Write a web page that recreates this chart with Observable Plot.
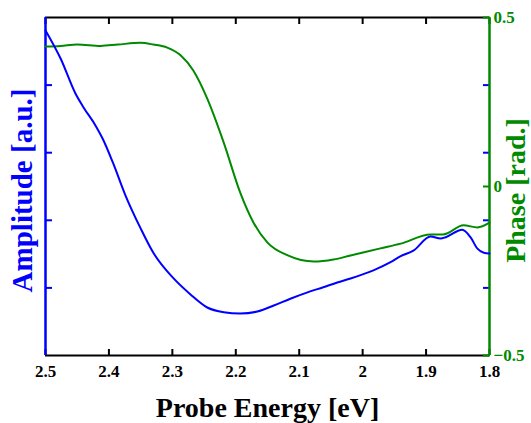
<!DOCTYPE html>
<html>
<head>
<meta charset="utf-8">
<script src="https://cdn.jsdelivr.net/npm/d3@7"></script>
<script src="https://cdn.jsdelivr.net/npm/@observablehq/plot@0.6"></script>
<style>
  html, body { margin: 0; padding: 0; background: #fff; }
</style>
</head>
<body>
<div id="chart"></div>
<script>
// Probe energy (eV) for the amplitude curve, and amplitude (a.u.)
const ampEnergy = [2.5, 2.476, 2.453, 2.440, 2.421, 2.410, 2.394, 2.374, 2.350, 2.330, 2.298, 2.271, 2.245, 2.219, 2.193, 2.166, 2.140, 2.114, 2.088, 2.062, 2.040, 2.019, 2.000, 1.983, 1.956, 1.940, 1.920, 1.893, 1.877, 1.869, 1.843, 1.830, 1.819, 1.809, 1.80];
const amplitude = [4.81, 4.39, 3.88, 3.67, 3.40, 3.21, 2.86, 2.37, 1.88, 1.52, 1.14, 0.90, 0.71, 0.64, 0.62, 0.65, 0.74, 0.84, 0.93, 1.01, 1.08, 1.14, 1.20, 1.26, 1.38, 1.47, 1.55, 1.76, 1.73, 1.75, 1.86, 1.75, 1.58, 1.52, 1.51];

// Probe energy (eV) for the phase curve, and phase (rad.)
const phaseEnergy = [2.5, 2.476, 2.450, 2.413, 2.386, 2.350, 2.330, 2.308, 2.287, 2.267, 2.245, 2.219, 2.193, 2.172, 2.150, 2.118, 2.077, 2.046, 2.019, 1.972, 1.940, 1.893, 1.873, 1.841, 1.819, 1.80];
const phase = [0.414, 0.416, 0.420, 0.416, 0.420, 0.425, 0.420, 0.411, 0.388, 0.343, 0.260, 0.130, -0.018, -0.107, -0.166, -0.204, -0.222, -0.216, -0.204, -0.183, -0.169, -0.142, -0.142, -0.115, -0.121, -0.107];

// Axes
const energyDomain = [2.5, 1.8];
const energyTicks = [2.5, 2.4, 2.3, 2.2, 2.1, 2, 1.9, 1.8];
const amplitudeDomain = [0, 5];
const amplitudeTicks = [1, 2, 3, 4];
const phaseDomain = [-0.5, 0.5];
const phaseTicks = [-0.5, 0, 0.5];
const phaseTickLabels = ["\u22120.5", "0", "0.5"];

const xLabel = "Probe Energy [eV]";
const yLabel = "Amplitude [a.u.]";
const y2Label = "Phase [rad.]";

const BLUE = "#0000ff";
const GREEN = "#008a00";

// map phase into the amplitude (left) scale for the twin axis
const [p0, p1] = phaseDomain, [a0, a1] = amplitudeDomain;
const phaseToAmp = p => a0 + (p - p0) / (p1 - p0) * (a1 - a0);

const ampData = ampEnergy.map((e, i) => ({e, v: amplitude[i]}));
const phaseData = phaseEnergy.map((e, i) => ({e, v: phaseToAmp(phase[i])}));
const phaseTickData = phaseTicks.map((p, i) => ({a: phaseToAmp(p), label: phaseTickLabels[i]}));

const plot = Plot.plot({
  width: 531,
  height: 423,
  marginLeft: 45,
  marginRight: 42,
  marginTop: 17,
  marginBottom: 68,
  style: {fontFamily: "'Liberation Serif', 'Times New Roman', serif", fontWeight: "bold", fontSize: "17px", background: "#fff", color: "#000"},
  x: {domain: energyDomain, label: null},
  y: {domain: amplitudeDomain, label: null},
  marks: [
    // frame sides
    Plot.ruleY([amplitudeDomain[1]], {stroke: "#000", strokeWidth: 2}),
    Plot.ruleY([amplitudeDomain[0]], {stroke: "#000", strokeWidth: 2}),
    // ticks on bottom and top (inward)
    Plot.axisX({anchor: "bottom", ticks: energyTicks, tickSize: -6, tickFormat: () => "", strokeWidth: 2, label: null}),
    Plot.axisX({anchor: "top", ticks: energyTicks, tickSize: -6, tickFormat: () => "", strokeWidth: 2, label: null}),
    Plot.axisX({anchor: "bottom", ticks: energyTicks, tickSize: 0, tickPadding: 9, tickFormat: d => d3.format("")(d), label: null}),
    // left axis (blue) ticks, mirrored on the right
    Plot.axisY({anchor: "left", ticks: amplitudeTicks, tickSize: -7, tickFormat: () => "", stroke: BLUE, strokeWidth: 2, label: null}),
    Plot.axisY({anchor: "right", ticks: amplitudeTicks, tickSize: -7, tickFormat: () => "", stroke: BLUE, strokeWidth: 2, label: null}),
    // right axis (green) ticks and labels
    Plot.axisY({anchor: "right", ticks: phaseTickData.map(d => d.a), tickSize: -7, tickPadding: 11, tickFormat: (d, i) => phaseTickData[i].label, stroke: GREEN, fill: GREEN, strokeWidth: 2, textAnchor: "start", label: null}),
    Plot.ruleX([energyDomain[0]], {stroke: BLUE, strokeWidth: 2.5}),
    Plot.ruleX([energyDomain[1]], {stroke: GREEN, strokeWidth: 2.5}),
    // data
    Plot.line(phaseData, {x: "e", y: "v", stroke: GREEN, strokeWidth: 2, curve: "monotone-x"}),
    Plot.line(ampData, {x: "e", y: "v", stroke: BLUE, strokeWidth: 2, curve: "monotone-x"}),
    // axis titles
    Plot.text([xLabel], {frameAnchor: "bottom", dy: 53, fontSize: 28, fontWeight: "bold", fill: "#000", lineAnchor: "middle", textAnchor: "middle"}),
    Plot.text([yLabel], {frameAnchor: "left", rotate: -90, dx: -23, dy: 4, fontSize: 29, fontWeight: "bold", fill: BLUE, lineAnchor: "middle", textAnchor: "middle"}),
    Plot.text([y2Label], {frameAnchor: "right", rotate: -90, dx: 27, dy: 4, fontSize: 28, fontWeight: "bold", fill: GREEN, lineAnchor: "middle", textAnchor: "middle"})
  ]
});
document.getElementById("chart").appendChild(plot);
</script>
</body>
</html>
